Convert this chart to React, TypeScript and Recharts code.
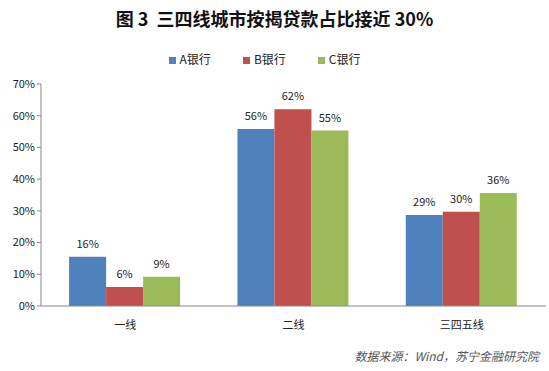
import { BarChart, Bar, XAxis, YAxis, Legend, LabelList } from 'recharts';

const categories = ['一线', '二线', '三四五线'];
const bankA = [15.5, 55.8, 28.7];
const bankB = [6.0, 62.0, 29.7];
const bankC = [9.2, 55.3, 35.6];
const yTicks = [0, 10, 20, 30, 40, 50, 60, 70];

const data = categories.map((name, i) => ({
  name,
  a: bankA[i],
  b: bankB[i],
  c: bankC[i],
}));

const FONT = '"Noto Sans CJK SC", "Noto Sans", sans-serif';
const pct = (v: any) => `${Math.round(Number(v))}%`;

export default function App() {
  return (
    <div style={{ position: 'absolute', left: 0, top: 0, width: 549, height: 371, background: '#fff', fontFamily: FONT }}>
      <div
        style={{
          position: 'absolute',
          top: 5,
          left: 0,
          width: 549,
          textAlign: 'center',
          fontSize: 18,
          fontWeight: 'bold',
          color: '#111',
          whiteSpace: 'pre',
        }}
      >
        图 3  三四线城市按揭贷款占比接近 30%
      </div>
      <BarChart
        width={549}
        height={371}
        data={data}
        margin={{ top: 67, right: 3, left: 0, bottom: 32 }}
        barCategoryGap="16.7%"
        barGap={0}
      >
        <XAxis
          dataKey="name"
          tickLine={false}
          axisLine={{ stroke: '#888' }}
          tick={{ fontSize: 11, fill: '#222', fontFamily: FONT }}
          height={33}
          tickMargin={9}
        />
        <YAxis
          domain={[0, 70]}
          ticks={yTicks}
          tickFormatter={(v) => `${v}%`}
          width={41}
          tickSize={4}
          axisLine={{ stroke: '#888' }}
          tickLine={{ stroke: '#888' }}
          tick={{ fontSize: 11, fill: '#222', fontFamily: FONT }}
        />
        <Legend
          verticalAlign="top"
          iconType="square"
          iconSize={7}
          wrapperStyle={{ top: 50, left: 6, width: 549, fontSize: 12, fontFamily: FONT }}
          formatter={(value) => <span style={{ color: '#222', marginRight: 22 }}>{value}</span>}
        />
        <Bar dataKey="a" name="A银行" fill="#4F81BD" isAnimationActive={false}>
          <LabelList dataKey="a" position="top" offset={9} formatter={pct} style={{ fontSize: 11, fill: '#222', fontFamily: FONT }} />
        </Bar>
        <Bar dataKey="b" name="B银行" fill="#C0504D" isAnimationActive={false}>
          <LabelList dataKey="b" position="top" offset={9} formatter={pct} style={{ fontSize: 11, fill: '#222', fontFamily: FONT }} />
        </Bar>
        <Bar dataKey="c" name="C银行" fill="#9BBB59" isAnimationActive={false}>
          <LabelList dataKey="c" position="top" offset={9} formatter={pct} style={{ fontSize: 11, fill: '#222', fontFamily: FONT }} />
        </Bar>
      </BarChart>
      <div
        style={{
          position: 'absolute',
          top: 347,
          right: 10,
          fontSize: 12,
          fontStyle: 'italic',
          color: '#555',
        }}
      >
        数据来源：Wind，苏宁金融研究院
      </div>
    </div>
  );
}
